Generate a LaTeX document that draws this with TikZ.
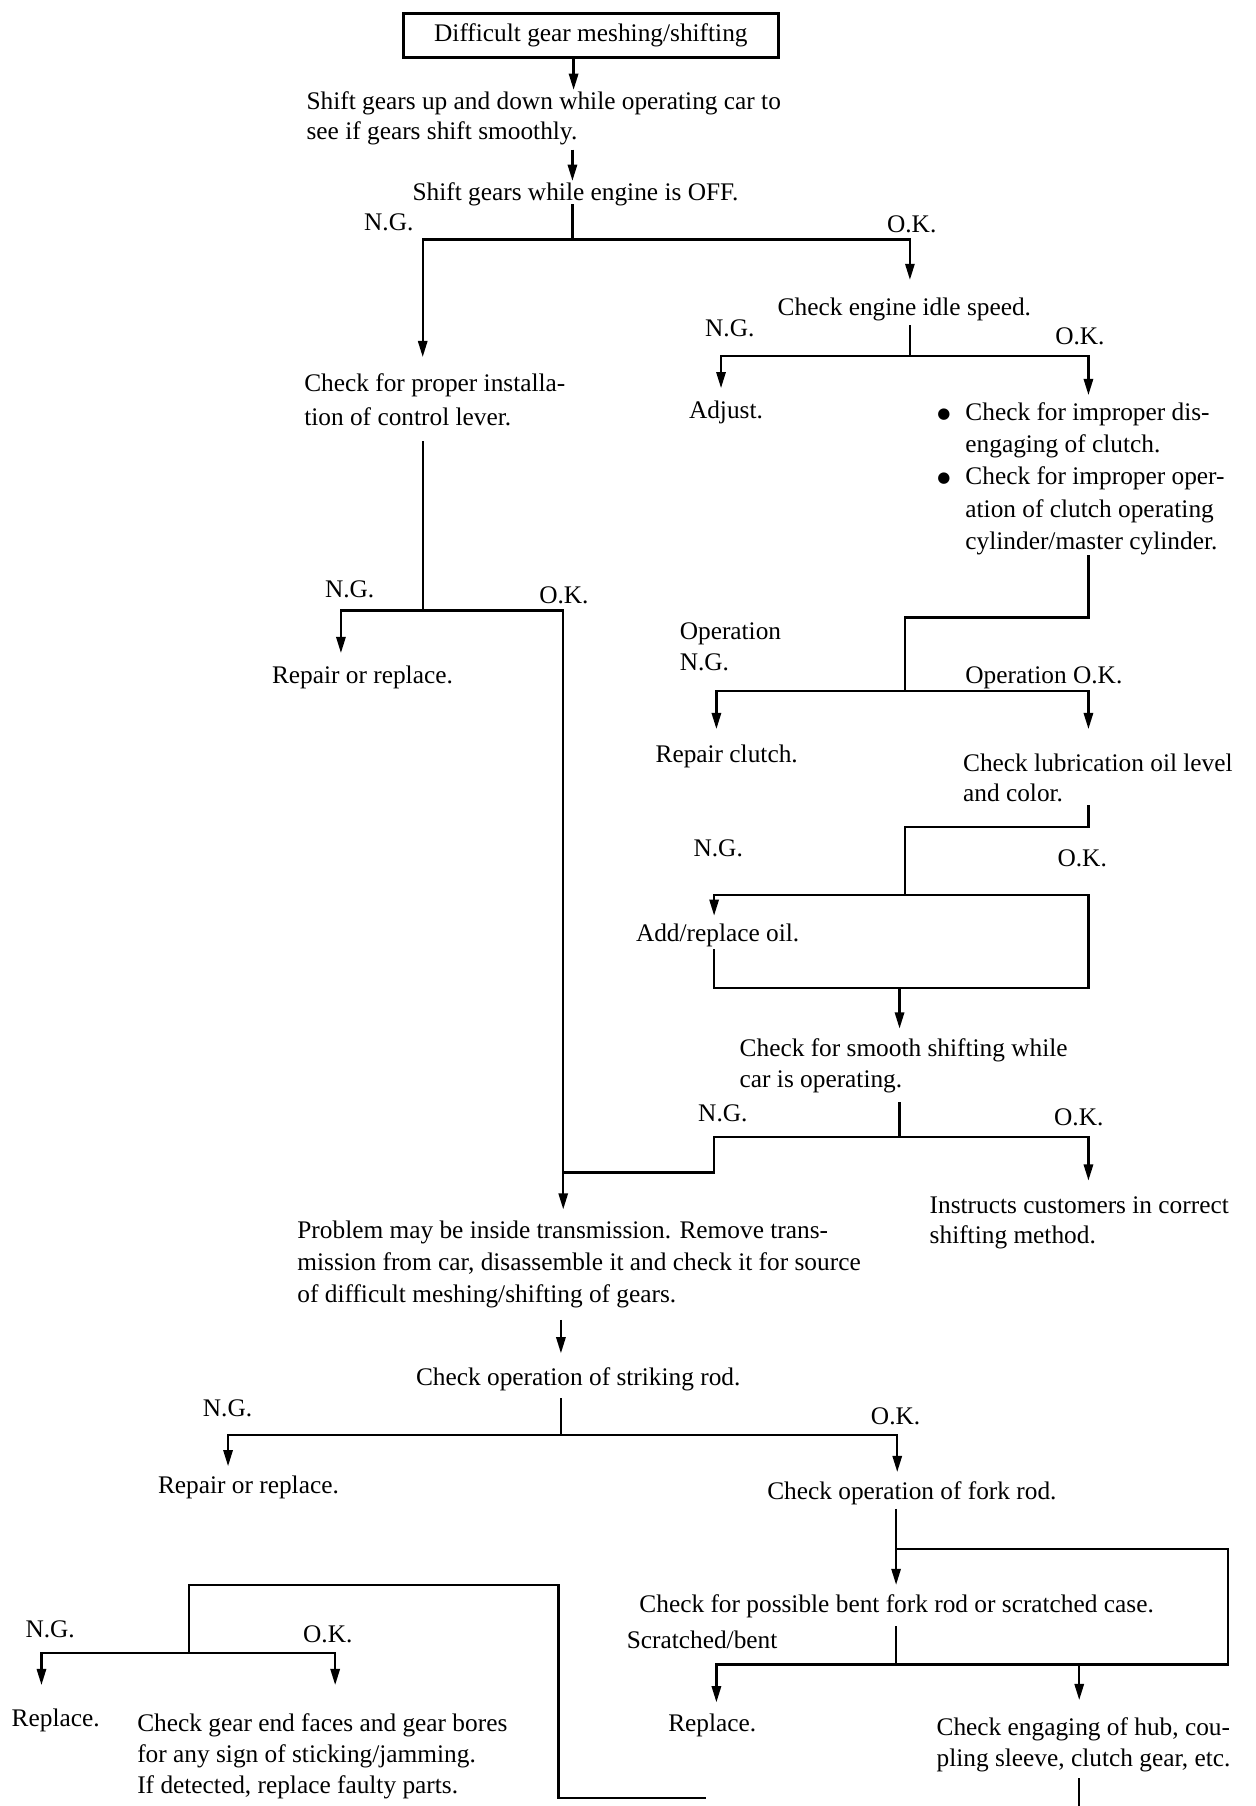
\documentclass[tikz,border=0pt]{standalone}
\usepackage{fontspec}
\setmainfont{Liberation Serif}
\newfontfamily\symfont{DejaVu Sans}
\usetikzlibrary{arrows.meta}
\newcommand{\bul}{\llap{\raisebox{2pt}{\symfont\fontsize{13}{13}\selectfont ●}\hspace{13pt}}}
\begin{document}
\begin{tikzpicture}[x=1pt,y=-1pt,
  txt/.style={inner sep=0pt, anchor=base west, align=left, font=\fontsize{22}{27}\selectfont},
  ln/.style={line width=2pt, line cap=rect},
  arr/.style={line width=2pt, -{Triangle[length=14pt,width=8pt]}},
  ]
\useasboundingbox (0,0) rectangle (1090,1568);
% start box
\node[draw, line width=2.8pt, minimum width=326pt, minimum height=38pt, inner sep=0pt,
      font=\fontsize{22}{27}\selectfont] (start) at (513,31) {Difficult gear meshing/shifting};
% text nodes (multi-line nodes are placed at the baseline of their last line)
\node[txt, font=\fontsize{22}{26}\selectfont] (t1) at (266,121) {Shift gears up and down while operating car to\\see if gears shift smoothly.};
\node[txt] (t2) at (358,174) {Shift gears while engine is OFF.};
\node[txt] (ng1) at (316,200) {N.G.};
\node[txt] (ok1) at (770,202) {O.K.};
\node[txt] (t3) at (675,274) {Check engine idle speed.};
\node[txt] (ng2) at (612,292) {N.G.};
\node[txt] (ok2) at (916,299) {O.K.};
\node[txt] (t4) at (598,363) {Adjust.};
\node[txt, font=\fontsize{22}{28}\selectfont] (t5) at (838,477) {\bul Check for improper dis-\\engaging of clutch.\\\bul Check for improper oper-\\ation of clutch operating\\cylinder/master cylinder.};
\node[txt, font=\fontsize{22}{29}\selectfont] (t6) at (264,369) {Check for proper installa-\\tion of control lever.};
\node[txt] (ng3) at (282,519) {N.G.};
\node[txt] (ok3) at (468,524) {O.K.};
\node[txt] (t7) at (236,593) {Repair or replace.};
\node[txt] (opng) at (590,582) {Operation\\N.G.};
\node[txt] (opok) at (838,593) {Operation O.K.};
\node[txt] (t8) at (569,662) {Repair clutch.};
\node[txt, font=\fontsize{22}{26}\selectfont] (t9) at (836,696) {Check lubrication oil level\\and color.};
\node[txt] (ng4) at (602,744) {N.G.};
\node[txt] (ok4) at (918,752) {O.K.};
\node[txt] (t10) at (552,817) {Add/replace oil.};
\node[txt] (t11) at (642,944) {Check for smooth shifting while\\car is operating.};
\node[txt] (ng5) at (606,974) {N.G.};
\node[txt] (ok5) at (915,977) {O.K.};
\node[txt, font=\fontsize{22}{26}\selectfont] (t12) at (807,1080) {Instructs customers in correct\\shifting method.};
\node[txt, font=\fontsize{22}{28}\selectfont] (t13) at (258,1131) {Problem may be inside transmission. Remove trans-\\mission from car, disassemble it and check it for source\\of difficult meshing/shifting of gears.};
\node[txt] (t14) at (361,1203) {Check operation of striking rod.};
\node[txt] (ng6) at (176,1230) {N.G.};
\node[txt] (ok6) at (756,1237) {O.K.};
\node[txt] (t15) at (137,1297) {Repair or replace.};
\node[txt] (t16) at (666,1302) {Check operation of fork rod.};
\node[txt] (t17) at (555,1400) {Check for possible bent fork rod or scratched case.};
\node[txt] (sb) at (544,1431) {Scratched/bent};
\node[txt] (t18) at (580,1503) {Replace.};
\node[txt] (t19) at (813,1534) {Check engaging of hub, cou-\\pling sleeve, clutch gear, etc.};
\node[txt] (ng7) at (22,1422) {N.G.};
\node[txt] (ok7) at (263,1426) {O.K.};
\node[txt] (t20) at (10,1499) {Replace.};
\node[txt] (t21) at (119,1557) {Check gear end faces and gear bores\\for any sign of sticking/jamming.\\If detected, replace faulty parts.};
% coordinates
\coordinate (a1) at (498,78);
\coordinate (c1) at (497,130); \coordinate (a2) at (497,157);
\coordinate (j1top) at (497,178); \coordinate (j1) at (497,208);
\coordinate (a3) at (790,243); \coordinate (a4) at (367,310);
\coordinate (j2top) at (790,283); \coordinate (j2) at (790,309);
\coordinate (a5) at (626,337); \coordinate (a6) at (945,343);
\coordinate (c3) at (367,384); \coordinate (j3) at (367,530);
\coordinate (a7) at (296,567); \coordinate (a8) at (489,1050);
\coordinate (c4) at (945,483); \coordinate (k1) at (786,536); \coordinate (j4) at (786,600);
\coordinate (a9) at (622,633); \coordinate (a10) at (945,633);
\coordinate (c5) at (945,700); \coordinate (k2) at (786,718); \coordinate (j5) at (786,777);
\coordinate (a11) at (620,795); \coordinate (k3) at (945,858); \coordinate (c6) at (620,825);
\coordinate (j6) at (781,858); \coordinate (a12) at (781,893);
\coordinate (c7) at (781,958); \coordinate (j7) at (781,987);
\coordinate (a13) at (945,1025); \coordinate (k4) at (620,1018); \coordinate (k5) at (489,1018);
\coordinate (c8) at (487,1146); \coordinate (a14) at (487,1175);
\coordinate (c9) at (487,1215); \coordinate (j8) at (487,1246);
\coordinate (a15) at (198,1273); \coordinate (a16) at (779,1278);
\coordinate (c10) at (778,1310); \coordinate (a17) at (778,1376);
\coordinate (k6) at (778,1345); \coordinate (k7) at (1066,1445);
\coordinate (c11) at (778,1413); \coordinate (j9) at (778,1445);
\coordinate (a18) at (622,1478); \coordinate (k8) at (937,1445); \coordinate (a19) at (937,1476);
\coordinate (c12) at (937,1545); \coordinate (e1) at (937,1568);
\coordinate (e2) at (612,1561); \coordinate (k10) at (485,1376); \coordinate (j10) at (164,1435);
\coordinate (a20) at (36,1463); \coordinate (a21) at (291,1463);
% connectors
\draw[arr] (start.south -| a1) -- (a1);
\draw[arr] (c1) -- (a2);
\draw[ln] (j1top) -- (j1);
\draw[arr] (j1) -| (a3);
\draw[arr] (j1) -| (a4);
\draw[ln] (j2top) -- (j2);
\draw[arr] (j2) -| (a5);
\draw[arr] (j2) -| (a6);
\draw[ln] (c3) -- (j3);
\draw[arr] (j3) -| (a7);
\draw[arr] (j3) -| (a8);
\draw[ln] (c4) |- (k1) -- (j4);
\draw[arr] (j4) -| (a9);
\draw[arr] (j4) -| (a10);
\draw[ln] (c5) |- (k2) -- (j5);
\draw[arr] (j5) -| (a11);
\draw[ln] (j5) -| (k3) -| (c6);
\draw[arr] (j6) -- (a12);
\draw[ln] (c7) -- (j7);
\draw[arr] (j7) -| (a13);
\draw[ln] (j7) -| (k4) -- (k5);
\draw[arr] (c8) -- (a14);
\draw[ln] (c9) -- (j8);
\draw[arr] (j8) -| (a15);
\draw[arr] (j8) -| (a16);
\draw[arr] (c10) -- (a17);
\draw[ln] (k6) -| (k7);
\draw[ln] (c11) -- (j9) -- (k7);
\draw[arr] (j9) -| (a18);
\draw[arr] (k8) -- (a19);
\draw[ln] (c12) -- (e1);
\draw[ln] (e2) -| (k10) -| (j10);
\draw[arr] (j10) -| (a20);
\draw[arr] (j10) -| (a21);
\end{tikzpicture}
\end{document}
